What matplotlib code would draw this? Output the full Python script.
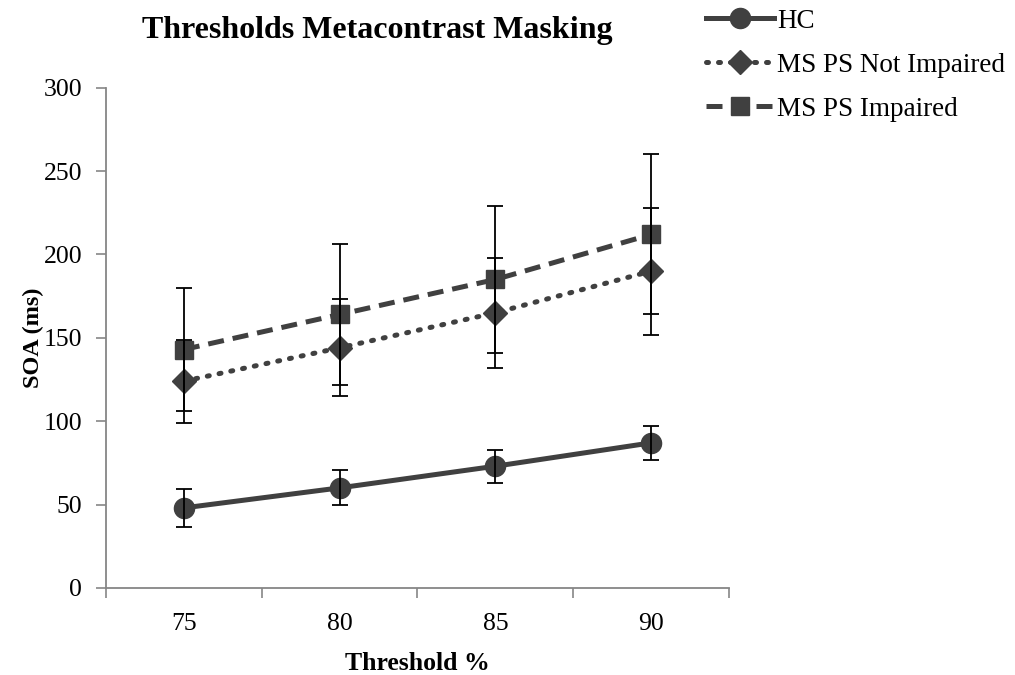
import matplotlib
matplotlib.use("Agg")
import matplotlib.pyplot as plt
from matplotlib.ticker import FixedLocator, NullFormatter

# datos
umbrales = ["75", "80", "85", "90"]
hc = [48, 60, 73, 87]
hc_err = [11.5, 10.5, 10, 10]
no_impaired = [124, 144, 165, 190]
no_impaired_err = [25, 29, 33, 38]
impaired = [143, 164, 185, 212]
impaired_err = [37, 42, 44, 48]

plt.rcParams['font.family'] = ['Liberation Serif', 'DejaVu Serif']
gris = "#404040"
eje = "#868686"

fig = plt.figure(figsize=(10.15, 6.75), dpi=100)
ax = fig.add_axes([0.1044, 0.129, 0.6138, 0.741])

xs = list(range(len(umbrales)))

l1, = ax.plot(xs, hc, color=gris, lw=3.6, marker="o", markersize=14.5,
              label="HC", zorder=3)
l2, = ax.plot(xs, no_impaired, color=gris, lw=3.6, linestyle=(0, (0.4, 2.0)),
              dash_capstyle="round", marker="D", markersize=12,
              label="MS PS Not Impaired", zorder=3)
l3, = ax.plot(xs, impaired, color=gris, lw=3.6, linestyle=(0, (3.2, 1.8)),
              marker="s", markersize=13.5, label="MS PS Impaired", zorder=3)

for valores, errores in [(hc, hc_err), (no_impaired, no_impaired_err), (impaired, impaired_err)]:
    ax.errorbar(xs, valores, yerr=errores, fmt="none", ecolor="black",
                elinewidth=1.3, capsize=5.8, capthick=1.3, zorder=4)

ax.set_xlim(-0.5, len(umbrales) - 0.5)
ax.set_ylim(0, 300)
ax.set_yticks(range(0, 301, 50))

# ticks en los limites de categoria, etiquetas en el centro
ax.xaxis.set_major_locator(FixedLocator([i - 0.5 for i in range(len(umbrales) + 1)]))
ax.xaxis.set_major_formatter(NullFormatter())
ax.xaxis.set_minor_locator(FixedLocator(xs))
ax.set_xticklabels(umbrales, minor=True)
ax.tick_params(axis="x", which="minor", length=0, labelsize=18.5, pad=18)
ax.tick_params(axis="x", which="major", length=7, color=eje, width=1.2, direction="out")
ax.tick_params(axis="y", length=7, color=eje, width=1.2, direction="out", labelsize=18.5, pad=10)

for lado in ["top", "right"]:
    ax.spines[lado].set_visible(False)
for lado in ["left", "bottom"]:
    ax.spines[lado].set_color(eje)
    ax.spines[lado].set_linewidth(1.3)

ax.set_xlabel("Threshold %", fontsize=18.5, fontweight="bold", labelpad=12)
ax.set_ylabel("SOA (ms)", fontsize=17.5, fontweight="bold", labelpad=0)

fig.text(0.372, 0.955, "Thresholds Metacontrast Masking", ha="center", va="center",
         fontsize=23, fontweight="bold")

fig.legend(handles=[l1, l2, l3], loc="upper left", bbox_to_anchor=(0.672, 1.023),
           frameon=False, fontsize=19.5, handlelength=2.5, handletextpad=0.1,
           labelspacing=0.7, markerscale=1.0)

fig.savefig("out.png", dpi=100)
